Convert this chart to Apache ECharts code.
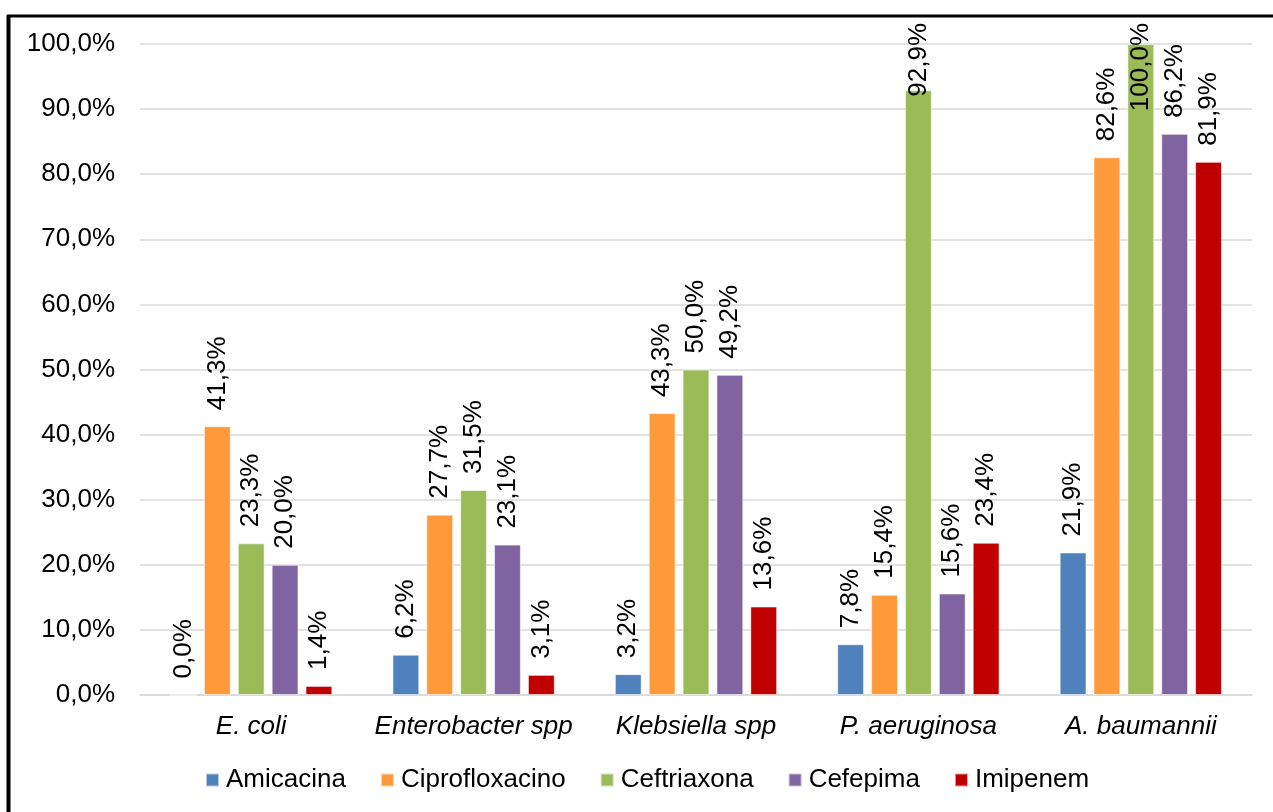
<!DOCTYPE html>
<html>
<head>
<meta charset="utf-8">
<script src="https://cdn.jsdelivr.net/npm/echarts@6/dist/echarts.min.js"></script>
<style>
html,body{margin:0;padding:0;background:#fff;}
#c{width:1273px;height:812px;}
</style>
</head>
<body>
<div id="c"></div>
<script>
const categories = ['E. coli', 'Enterobacter spp', 'Klebsiella spp', 'P. aeruginosa', 'A. baumannii'];
const seriesNames = ['Amicacina', 'Ciprofloxacino', 'Ceftriaxona', 'Cefepima', 'Imipenem'];
const amicacina = [0.0, 6.2, 3.2, 7.8, 21.9];
const ciprofloxacino = [41.3, 27.7, 43.3, 15.4, 82.6];
const ceftriaxona = [23.3, 31.5, 50.0, 92.9, 100.0];
const cefepima = [20.0, 23.1, 49.2, 15.6, 86.2];
const imipenem = [1.4, 3.1, 13.6, 23.4, 81.9];
const colors = ['#4F81BD', '#FF9A3B', '#9BBB59', '#8064A2', '#C00000'];

const values = [amicacina, ciprofloxacino, ceftriaxona, cefepima, imipenem];
const fmt = v => v.toFixed(1).replace('.', ',') + '%';
const font = '"Liberation Sans", Arial, sans-serif';
const labelSize = 26;
const labelGap = 16;
const labelTopLimit = 23;

const el = document.getElementById('c');
const chart = echarts.init(el, null, {renderer: 'canvas'});
const measureCtx = document.createElement('canvas').getContext('2d');
measureCtx.font = labelSize + 'px ' + font;

const baseOption = {
  animation: false,
  color: colors,
  grid: {left: 140, right: 21, top: 44, bottom: 117, containLabel: false},
  graphic: [
    {type: 'line', shape: {x1: 7, y1: 16, x2: 1273, y2: 16}, style: {stroke: '#000', lineWidth: 3}},
    {type: 'line', shape: {x1: 8.5, y1: 15, x2: 8.5, y2: 812}, style: {stroke: '#000', lineWidth: 4}}
  ],
  legend: {
    top: 762,
    left: 200,
    itemWidth: 13,
    itemHeight: 13,
    itemGap: 34,
    icon: 'rect',
    textStyle: {fontSize: 26, color: '#000', fontFamily: font, padding: [0, 0, 0, 2]},
    data: seriesNames
  },
  xAxis: {
    type: 'category',
    data: categories,
    axisLine: {lineStyle: {color: '#D9D9D9', width: 1.5}},
    axisTick: {show: false},
    axisLabel: {interval: 0, fontSize: 26, fontStyle: 'italic', color: '#000', fontFamily: font, margin: 19}
  },
  yAxis: {
    type: 'value',
    min: 0,
    max: 100,
    interval: 10,
    axisLine: {show: false},
    axisTick: {show: false},
    splitLine: {lineStyle: {color: '#D9D9D9', width: 1.5}},
    axisLabel: {fontSize: 26, color: '#000', fontFamily: font, margin: 25, formatter: v => fmt(v)}
  },
  series: seriesNames.map((name, i) => ({
    name: name,
    type: 'bar',
    data: values[i],
    barGap: '26%',
    barCategoryGap: '27%',
    itemStyle: {color: colors[i], borderColor: 'rgba(255,255,255,0.6)', borderWidth: 1},
    labelLayout: {hideOverlap: false},
    label: {
      show: true,
      position: 'top',
      rotate: 90,
      align: 'left',
      verticalAlign: 'middle',
      distance: labelGap,
      fontSize: labelSize,
      color: '#000',
      fontFamily: font,
      formatter: p => fmt(p.value)
    }
  }))
};
chart.setOption(baseOption);

// Keep labels inside the chart area (pushed down into the bar when too tall), as in the original
chart.setOption({
  series: seriesNames.map((name, i) => ({
    data: values[i].map(v => {
      const barTop = chart.convertToPixel({yAxisIndex: 0}, v);
      const len = measureCtx.measureText(fmt(v)).width;
      if (barTop - labelGap - len < labelTopLimit) {
        return {value: v, label: {position: 'insideTop', distance: labelTopLimit + len - barTop}};
      }
      return v;
    })
  }))
});
</script>
</body>
</html>
